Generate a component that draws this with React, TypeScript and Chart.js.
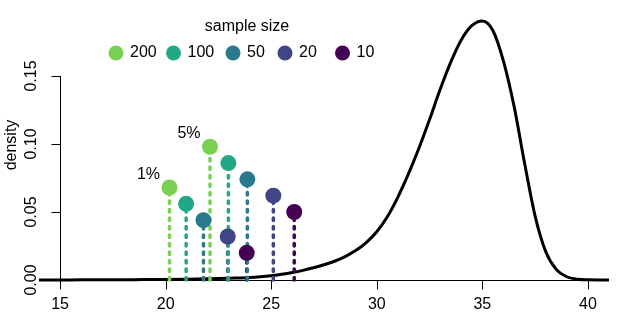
import React, { useEffect, useRef } from "react";
import { Chart, registerables } from "chart.js";

Chart.register(...registerables);

// ---- data ----
const xTickValues = [15, 20, 25, 30, 35, 40];
const yTickValues = [0, 0.05, 0.1, 0.15];
const yTickLabels = ["0.00", "0.05", "0.10", "0.15"];

const sampleSizes = ["200", "100", "50", "20", "10"];
const sizeColors = ["#7AD151", "#22A884", "#2A788E", "#414487", "#440154"];

// 1% and 5% quantile positions per sample size, with lollipop heights
const q01X = [20.18, 20.97, 21.79, 22.94, 23.84];
const q01H = [0.068, 0.056, 0.044, 0.032, 0.02];
const q05X = [22.1, 22.97, 23.87, 25.1, 26.09];
const q05H = [0.098, 0.086, 0.074, 0.062, 0.05];

const quantileLabels = ["1%", "5%"];

// density curve
const curveX = [
  14, 15, 16, 17, 18, 19, 20, 21, 22, 23, 24, 24.5, 25, 25.5, 26, 26.5, 27, 27.5, 28,
  28.5, 29, 29.5, 30, 30.5, 31, 31.5, 32, 32.5, 33, 33.5, 34, 34.5, 35, 35.5, 36, 36.5,
  37, 37.5, 38, 38.5, 39, 39.5, 40, 40.5, 41,
];
const curveY = [
  0.0, 0.0, 0.0001, 0.0001, 0.0002, 0.0003, 0.0004, 0.0006, 0.0009, 0.0013, 0.0018,
  0.0024, 0.0032, 0.0042, 0.0055, 0.0071, 0.009, 0.0112, 0.0138, 0.0172, 0.0216, 0.0275,
  0.0355, 0.0465, 0.061, 0.078, 0.097, 0.118, 0.14, 0.16, 0.1765, 0.187, 0.1905, 0.1835,
  0.161, 0.128, 0.086, 0.047, 0.021, 0.0078, 0.0024, 0.0006, 0.0001, 0.0, 0.0,
];

const FONT = '"Liberation Sans", Arial, Helvetica, sans-serif';
const FONT_SIZE = 16;

const axesPlugin = {
  id: "rAxes",
  beforeDatasetsDraw(chart: any) {
    const { ctx, scales } = chart;
    const xs = scales.x;
    const ys = scales.y;
    ctx.save();
    ctx.strokeStyle = "#000";
    ctx.lineWidth = 1;
    // x axis
    const y0 = Math.round(ys.getPixelForValue(0)) + 0.5;
    ctx.beginPath();
    ctx.moveTo(xs.getPixelForValue(xTickValues[0]), y0);
    ctx.lineTo(xs.getPixelForValue(xTickValues[xTickValues.length - 1]), y0);
    xTickValues.forEach((v) => {
      const px = Math.round(xs.getPixelForValue(v)) + 0.5;
      ctx.moveTo(px, y0);
      ctx.lineTo(px, y0 + 9);
    });
    ctx.stroke();
    ctx.fillStyle = "#000";
    ctx.font = `${FONT_SIZE}px ${FONT}`;
    ctx.textAlign = "center";
    ctx.textBaseline = "middle";
    xTickValues.forEach((v) => {
      ctx.fillText(String(v), xs.getPixelForValue(v), 305);
    });
    // y axis at x = 15
    const xa = Math.round(xs.getPixelForValue(15)) + 0.5;
    ctx.beginPath();
    ctx.moveTo(xa, ys.getPixelForValue(yTickValues[0]));
    ctx.lineTo(xa, ys.getPixelForValue(yTickValues[yTickValues.length - 1]));
    yTickValues.forEach((v) => {
      const py = Math.round(ys.getPixelForValue(v)) + 0.5;
      ctx.moveTo(xa, py);
      ctx.lineTo(xa - 9, py);
    });
    ctx.stroke();
    yTickValues.forEach((v, i) => {
      ctx.save();
      ctx.translate(32, ys.getPixelForValue(v));
      ctx.rotate(-Math.PI / 2);
      ctx.fillText(yTickLabels[i], 0, 0);
      ctx.restore();
    });
    ctx.save();
    ctx.translate(12, 145);
    ctx.rotate(-Math.PI / 2);
    ctx.fillText("density", 0, 0);
    ctx.restore();
    ctx.restore();
  },
  afterDraw(chart: any) {
    const { ctx, scales } = chart;
    const xs = scales.x;
    const ys = scales.y;
    ctx.save();
    ctx.fillStyle = "#000";
    ctx.font = `${FONT_SIZE}px ${FONT}`;
    ctx.textAlign = "center";
    ctx.textBaseline = "middle";
    // quantile labels next to the largest-sample points
    ctx.fillText(quantileLabels[0], xs.getPixelForValue(q01X[0]) - 21, ys.getPixelForValue(q01H[0]) - 13);
    ctx.fillText(quantileLabels[1], xs.getPixelForValue(q05X[0]) - 21, ys.getPixelForValue(q05H[0]) - 13);
    // legend
    ctx.fillText("sample size", 247, 27);
    const dotX = [116, 173.5, 233, 285, 342.5];
    ctx.textAlign = "left";
    sampleSizes.forEach((s, i) => {
      ctx.beginPath();
      ctx.arc(dotX[i], 53, 7.5, 0, Math.PI * 2);
      ctx.fillStyle = sizeColors[i];
      ctx.fill();
      ctx.fillStyle = "#000";
      ctx.fillText(s, dotX[i] + 14, 53);
    });
    ctx.restore();
  },
};

export default function App() {
  const ref = useRef<HTMLCanvasElement | null>(null);
  useEffect(() => {
    if (!ref.current) return;
    const datasets: any[] = [];
    // dots (top-most)
    sampleSizes.forEach((s, i) => {
      datasets.push({
        type: "scatter",
        label: s,
        data: [
          { x: q01X[i], y: q01H[i] },
          { x: q05X[i], y: q05H[i] },
        ],
        pointRadius: 8,
        pointBackgroundColor: sizeColors[i],
        pointBorderWidth: 0,
        borderColor: sizeColors[i],
        showLine: false,
        clip: false,
        order: 0,
      });
    });
    // stems
    sampleSizes.forEach((s, i) => {
      [
        [q01X[i], q01H[i]],
        [q05X[i], q05H[i]],
      ].forEach(([qx, qh]) => {
        datasets.push({
          type: "line",
          label: s + " stem",
          data: [
            { x: qx, y: 0 },
            { x: qx, y: qh },
          ],
          borderColor: sizeColors[i],
          borderWidth: 3.5,
          borderDash: [2.5, 6],
          borderCapStyle: "round",
          pointRadius: 0,
          clip: false,
          order: 1,
        });
      });
    });
    // density curve
    datasets.push({
      type: "line",
      label: "density",
      data: curveX.map((x, i) => ({ x, y: curveY[i] })),
      borderColor: "#000",
      borderWidth: 3,
      pointRadius: 0,
      cubicInterpolationMode: "monotone",
      clip: false,
      order: 2,
    });

    const chart = new Chart(ref.current, {
      type: "line",
      data: { datasets },
      options: {
        animation: false,
        responsive: false,
        devicePixelRatio: 1,
        layout: { padding: { left: 39, right: 15, top: 3, bottom: 36 } },
        plugins: { legend: { display: false }, tooltip: { enabled: false } },
        scales: {
          x: { type: "linear", min: 14, max: 41, display: false },
          y: { type: "linear", min: 0, max: 0.2, display: false },
        },
      },
      plugins: [axesPlugin],
    });
    return () => chart.destroy();
  }, []);
  return (
    <div style={{ position: "absolute", left: 0, top: 0, width: 624, height: 316, background: "#fff" }}>
      <canvas ref={ref} width={624} height={316} style={{ display: "block" }} />
    </div>
  );
}
